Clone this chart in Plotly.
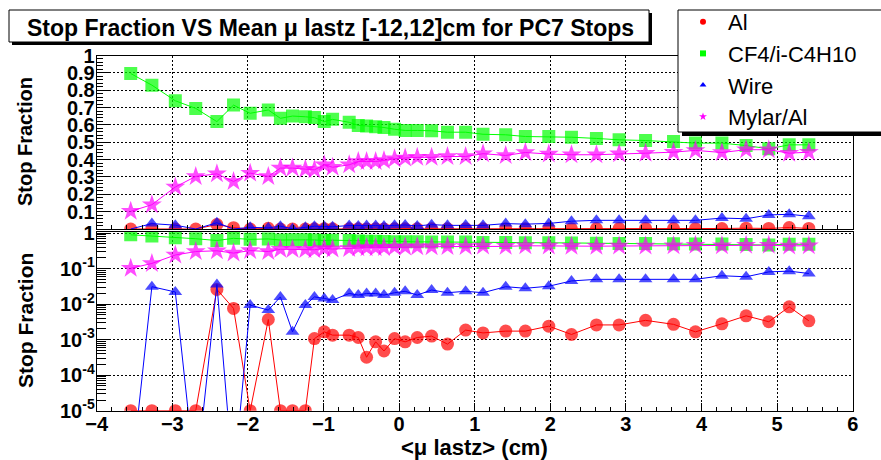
import numpy as np
import plotly.graph_objects as go

# Mean muon lastz position of each bin (cm)
mean_lastz = [-3.55, -3.27, -2.96, -2.69, -2.41, -2.19, -1.97, -1.73, -1.57, -1.41,
              -1.24, -1.12, -0.99, -0.88, -0.66, -0.54, -0.43, -0.31, -0.20, -0.06,
              0.08, 0.24, 0.43, 0.64, 0.88, 1.11, 1.41, 1.67, 1.98, 2.28,
              2.61, 2.91, 3.26, 3.63, 3.92, 4.27, 4.59, 4.89, 5.16, 5.42]

# Stop fractions per material (Al is floored at 1e-5 where no stops were seen)
frac_al = [1e-5, 1e-5, 1e-5, 1e-5, 0.026, 0.0076, 1e-5, 0.0037, 1e-5, 1e-5,
           1e-5, 1.07e-3, 1.66e-3, 1.34e-3, 1.34e-3, 1.15e-3, 3.2e-4, 8.7e-4, 4.8e-4, 1.07e-3,
           8.7e-4, 1.15e-3, 1.26e-3, 7.5e-4, 1.86e-3, 1.55e-3, 1.74e-3, 1.74e-3, 2.4e-3, 1.4e-3,
           2.6e-3, 2.6e-3, 3.5e-3, 2.7e-3, 1.66e-3, 2.8e-3, 4.7e-3, 3.2e-3, 8.4e-3, 3.4e-3]
frac_gas = [0.896, 0.829, 0.739, 0.695, 0.619, 0.714, 0.667, 0.686, 0.638, 0.651,
            0.647, 0.642, 0.619, 0.632, 0.615, 0.597, 0.594, 0.590, 0.585, 0.575,
            0.568, 0.568, 0.566, 0.558, 0.558, 0.546, 0.543, 0.533, 0.533, 0.529,
            0.522, 0.514, 0.510, 0.504, 0.495, 0.495, 0.481, 0.462, 0.485, 0.485]
frac_wire = [0.0, 0.031, 0.022, 0.0, 0.036, 0.0, 0.0094, 0.0068, 0.016, 1.66e-3,
             0.0094, 0.016, 0.0145, 0.013, 0.020, 0.018, 0.020, 0.020, 0.018, 0.021,
             0.023, 0.018, 0.025, 0.021, 0.023, 0.021, 0.031, 0.028, 0.032, 0.045,
             0.050, 0.050, 0.050, 0.050, 0.050, 0.063, 0.059, 0.081, 0.085, 0.073]
frac_mylar = [0.102, 0.140, 0.242, 0.303, 0.318, 0.274, 0.322, 0.303, 0.351, 0.351,
              0.345, 0.341, 0.370, 0.356, 0.370, 0.389, 0.389, 0.389, 0.395, 0.405,
              0.409, 0.413, 0.413, 0.418, 0.418, 0.434, 0.424, 0.441, 0.432, 0.428,
              0.428, 0.434, 0.437, 0.443, 0.453, 0.441, 0.457, 0.457, 0.437, 0.443]

series_names = ["Al", "CF4/i-C4H10", "Wire", "Mylar/Al"]

lin_tickvals = [0.1, 0.2, 0.3, 0.4, 0.5, 0.6, 0.7, 0.8, 0.9, 1.0]
lin_ticktext = ["0.1", "0.2", "0.3", "0.4", "0.5", "0.6", "0.7", "0.8", "0.9", "1"]
log_tickvals = [1, 1e-1, 1e-2, 1e-3, 1e-4, 1e-5]
log_ticktext = ["1", "10<sup>-1</sup>", "10<sup>-2</sup>", "10<sup>-3</sup>",
                "10<sup>-4</sup>", "10<sup>-5</sup>"]
x_tickvals = [-4, -3, -2, -1, 0, 1, 2, 3, 4, 5, 6]

W, H = 881, 460
FONT = "Liberation Sans"

styles = [
    dict(color="#ff0000", symbol="circle", size=13),
    dict(color="#00ff00", symbol="square", size=13),
    dict(color="#0000ff", symbol="triangle-up", size=12),
    dict(color="#ff00ff", symbol="star", size=15),
]
all_series = [frac_al, frac_gas, frac_wire, frac_mylar]


def px_x(p):
    return p / W


def px_y(p):
    return 1 - p / H


x_dom = [px_x(96.7), px_x(852.7)]
top_dom = [px_y(229.0), px_y(55.5)]
bot_dom = [px_y(410.7), px_y(231.7)]

fig = go.Figure()

for vals, st, name in zip(all_series, styles, series_names):
    v = np.array(vals, dtype=float)
    sizes = np.where(v > 0, st["size"], 0)
    # linear pad
    fig.add_trace(go.Scatter(
        x=mean_lastz, y=v, mode="lines+markers", xaxis="x", yaxis="y",
        line=dict(color=st["color"], width=1),
        marker=dict(color=st["color"], symbol=st["symbol"], size=sizes, line=dict(width=0)),
        showlegend=False, cliponaxis=True, hoverinfo="skip"))
    # log pad: empty bins run off the bottom of the frame
    v_log = np.where(v > 0, v, 1e-7)
    fig.add_trace(go.Scatter(
        x=mean_lastz, y=v_log, mode="lines+markers", xaxis="x2", yaxis="y2",
        line=dict(color=st["color"], width=1),
        marker=dict(color=st["color"], symbol=st["symbol"], size=sizes, line=dict(width=0)),
        showlegend=False, cliponaxis=True, hoverinfo="skip"))

# legend entries (marker only)
for st, name in zip(styles, series_names):
    fig.add_trace(go.Scatter(
        x=[None], y=[None], mode="markers", name=name, xaxis="x2", yaxis="y2",
        marker=dict(color=st["color"], symbol=st["symbol"], size=6, line=dict(width=0)),
        showlegend=True))

grid = dict(showgrid=True, gridcolor="black", gridwidth=1, griddash="2px,2px")
frame = dict(showline=True, mirror=True, linecolor="black", linewidth=1, zeroline=False,
             automargin=False)
tickf = dict(family=FONT, size=20, color="black", weight="bold")

xcommon = dict(domain=x_dom, range=[-4, 6], tickmode="array", tickvals=x_tickvals,
               ticks="inside", ticklen=8, tickcolor="black",
               minor=dict(ticks="inside", ticklen=4, dtick=0.2, tick0=0, tickcolor="black",
                          showgrid=False),
               **grid, **frame)

minor_log = [k * 10.0 ** e for e in range(-5, 0) for k in range(2, 10)]

fig.update_layout(
    width=W, height=H,
    margin=dict(l=0, r=0, t=0, b=0, pad=0, autoexpand=False),
    paper_bgcolor="white", plot_bgcolor="white",
    xaxis=dict(anchor="y", showticklabels=False, **xcommon),
    xaxis2=dict(anchor="y2", showticklabels=True, tickfont=tickf, ticklabelstandoff=-5,
                **xcommon),
    yaxis=dict(domain=top_dom, range=[0, 1], anchor="x", tickmode="array",
               tickvals=lin_tickvals, ticktext=lin_ticktext, tickfont=tickf,
               ticklabelstandoff=-3,
               ticks="inside", ticklen=12, tickcolor="black",
               minor=dict(ticks="inside", ticklen=6, dtick=0.02, tick0=0, tickcolor="black",
                          showgrid=False),
               **grid, **frame),
    yaxis2=dict(domain=bot_dom, type="log", range=[-5, 0.04], anchor="x2", tickmode="array",
                tickvals=log_tickvals, ticktext=log_ticktext, tickfont=tickf,
                ticklabelstandoff=-3,
                ticks="inside", ticklen=12, tickcolor="black",
                minor=dict(ticks="inside", ticklen=9, tickvals=minor_log, tickcolor="black",
                           showgrid=False),
                **grid, **frame),
    legend=dict(x=px_x(678), y=px_y(1), xanchor="left", yanchor="top",
                bgcolor="rgba(0,0,0,0)", borderwidth=0,
                font=dict(family=FONT, size=22, color="black"),
                itemwidth=40, tracegroupgap=0),
    showlegend=True,
)

shapes = []
# title box with shadow
shapes.append(dict(type="rect", xref="paper", yref="paper", x0=px_x(12), x1=px_x(652),
                   y0=px_y(45), y1=px_y(13), fillcolor="black", line=dict(width=0), layer="above"))
shapes.append(dict(type="rect", xref="paper", yref="paper", x0=px_x(9), x1=px_x(649),
                   y0=px_y(42), y1=px_y(10), fillcolor="white",
                   line=dict(color="black", width=1), layer="above"))
# legend box with shadow
shapes.append(dict(type="rect", xref="paper", yref="paper", x0=px_x(682), x1=px_x(895),
                   y0=px_y(136), y1=px_y(14), fillcolor="black", line=dict(width=0), layer="above"))
shapes.append(dict(type="rect", xref="paper", yref="paper", x0=px_x(678), x1=px_x(891),
                   y0=px_y(132), y1=px_y(10), fillcolor="white",
                   line=dict(color="black", width=1), layer="above"))
fig.update_layout(shapes=shapes)

ann_font = dict(family=FONT, size=22, color="black", weight="bold")
fig.update_layout(annotations=[
    dict(text="Stop Fraction VS Mean \u03bc lastz [-12,12]cm for PC7 Stops",
         xref="paper", yref="paper", x=px_x(330), y=px_y(28), xanchor="center",
         yanchor="middle", showarrow=False, font=dict(ann_font, size=23)),
    dict(text="Stop Fraction", xref="paper", yref="paper", x=px_x(25), y=px_y(142),
         xanchor="center", yanchor="middle", textangle=-90, showarrow=False,
         font=dict(ann_font, size=20)),
    dict(text="Stop Fraction", xref="paper", yref="paper", x=px_x(25), y=px_y(321),
         xanchor="center", yanchor="middle", textangle=-90, showarrow=False,
         font=dict(ann_font, size=21)),
    dict(text="<\u03bc lastz> (cm)", xref="paper", yref="paper", x=px_x(475), y=px_y(447),
         xanchor="center", yanchor="middle", showarrow=False, font=ann_font),
])

fig.write_html("out.html")
